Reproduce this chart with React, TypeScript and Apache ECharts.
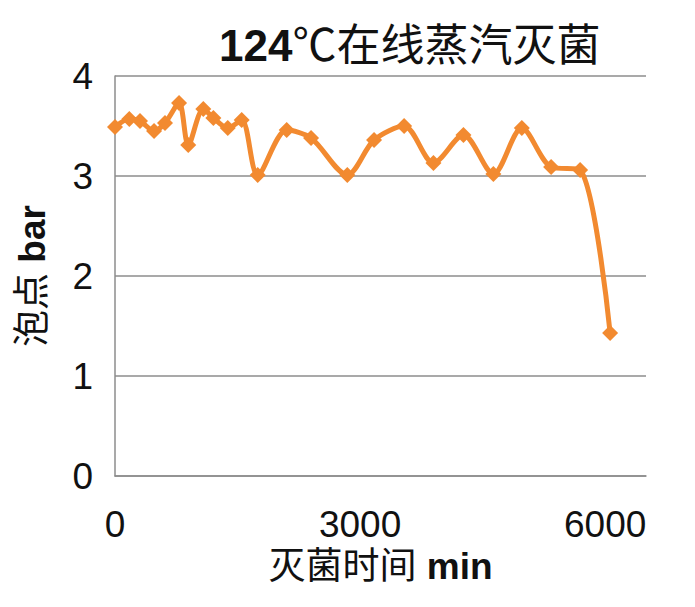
import React, { useEffect, useRef } from "react";
import * as echarts from "echarts";

const times = [0, 175, 306, 478, 612, 784, 897, 1081, 1204, 1380, 1551, 1747, 2102, 2400, 2844, 3171, 3539, 3898, 4265, 4632, 4980, 5339, 5694, 6061];
const bubblePoint = [3.49, 3.57, 3.55, 3.45, 3.53, 3.73, 3.31, 3.67, 3.58, 3.48, 3.56, 3.01, 3.46, 3.38, 3.01, 3.36, 3.50, 3.13, 3.41, 3.02, 3.48, 3.09, 3.06, 1.43];
const titleBold = "124";
const titleRest = "℃在线蒸汽灭菌";
const yNameCn = "泡点";
const yNameEn = "bar";
const xNameCn = "灭菌时间";
const xNameEn = "min";

export default function App() {
  const ref = useRef<HTMLDivElement>(null);
  useEffect(() => {
    if (!ref.current) return;
    const chart = echarts.init(ref.current, null, { renderer: "svg" });
    const font = "'Liberation Sans', Arial, 'Noto Sans CJK SC', sans-serif";
    const grey = "#8c8c8c";
    chart.setOption({
      animation: false,
      backgroundColor: "#ffffff",
      textStyle: { fontFamily: font },
      title: {
        text: `{b|${titleBold}}{n|${titleRest}}`,
        left: 214,
        top: 18,
        textStyle: {
          fontWeight: "normal",
          rich: {
            b: { fontSize: 44, fontWeight: "bold", color: "#111", fontFamily: font },
            n: { fontSize: 44, fontWeight: "normal", color: "#111", fontFamily: font },
          },
        },
      },
      grid: { left: 115, right: 49, top: 76, bottom: 131 },
      xAxis: {
        type: "value",
        min: 0,
        max: 6500,
        interval: 3000,
        name: `{c|${xNameCn} }{e|${xNameEn}}`,
        nameLocation: "middle",
        nameGap: 70,
        nameTextStyle: {
          rich: {
            c: { fontSize: 37, color: "#111", fontFamily: font },
            e: { fontSize: 37, fontWeight: "bold", color: "#111", fontFamily: font },
          },
        },
        axisLine: { show: true, lineStyle: { color: grey, width: 1.5 } },
        axisTick: { show: false },
        splitLine: { show: false },
        axisLabel: {
          fontSize: 37,
          color: "#111",
          margin: 30,
          showMaxLabel: false,
          formatter: (v: number) => String(v),
        },
      },
      yAxis: {
        type: "value",
        min: 0,
        max: 4,
        interval: 1,
        name: `{c|${yNameCn} }{e|${yNameEn}}`,
        nameLocation: "middle",
        nameGap: 64,
        nameRotate: 90,
        nameTextStyle: {
          rich: {
            c: { fontSize: 37, color: "#111", fontFamily: font },
            e: { fontSize: 37, fontWeight: "bold", color: "#111", fontFamily: font },
          },
        },
        axisLine: { show: true, lineStyle: { color: grey, width: 1.5 } },
        axisTick: { show: false },
        splitLine: { show: true, lineStyle: { color: grey, width: 1.5 } },
        axisLabel: { fontSize: 37, color: "#111", margin: 22 },
      },
      series: [
        {
          type: "line",
          data: times.map((t, i) => [t, bubblePoint[i]]),
          smooth: 0.3,
          symbol: "diamond",
          symbolSize: 16,
          lineStyle: { color: "#F28A30", width: 5 },
          itemStyle: { color: "#F28A30" },
        },
      ],
    });
    return () => chart.dispose();
  }, []);
  return (
    <div
      ref={ref}
      style={{ position: "fixed", left: 0, top: 0, width: 695, height: 607 }}
    />
  );
}
